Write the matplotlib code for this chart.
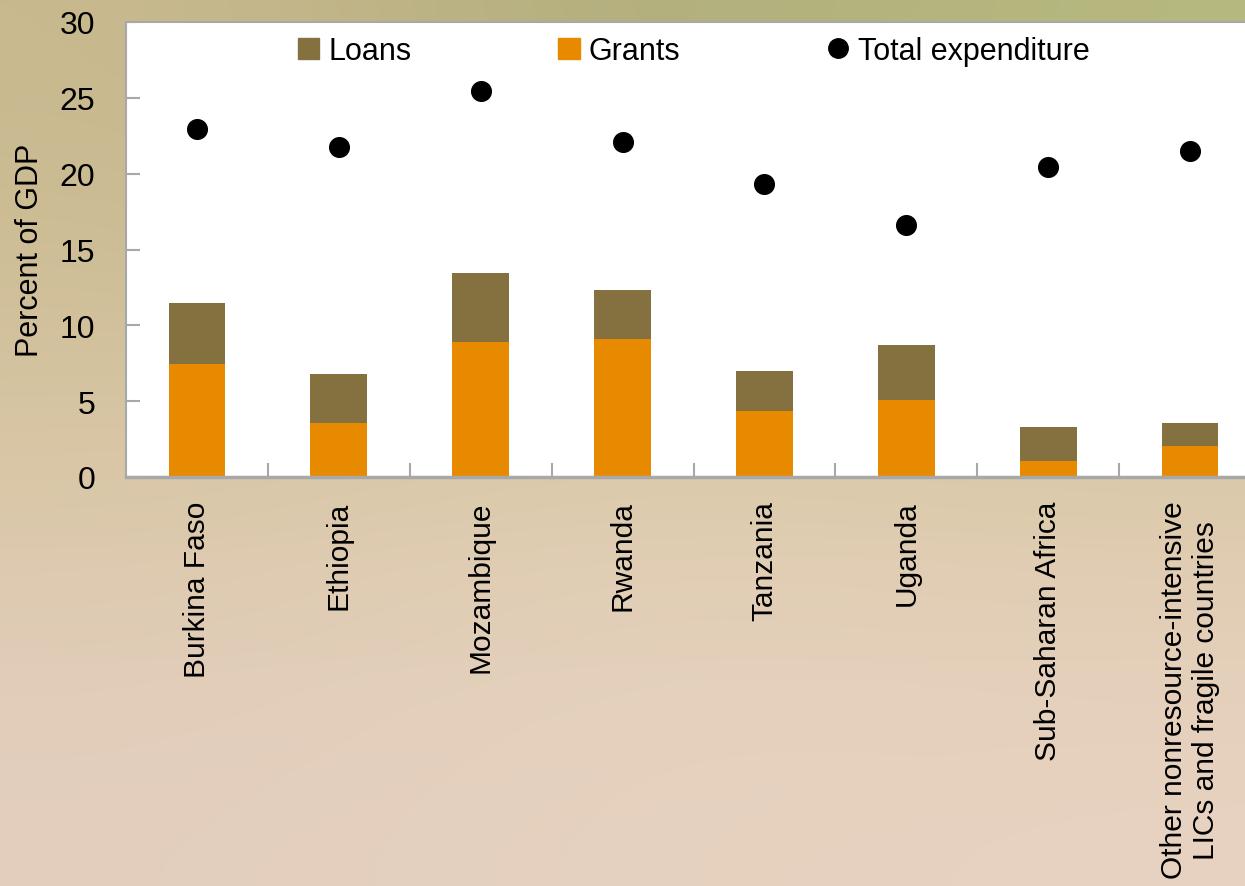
import numpy as np
import matplotlib.pyplot as plt
from matplotlib.colors import to_rgb
from matplotlib.lines import Line2D
from matplotlib.patches import Patch

# 国・地域別の援助（対GDP比）
countries = ['Burkina Faso', 'Ethiopia', 'Mozambique', 'Rwanda', 'Tanzania',
             'Uganda', 'Sub-Saharan Africa',
             'Other nonresource-intensive\nLICs and fragile countries']
grants = [7.45, 3.56, 8.9, 9.1, 4.35, 5.08, 1.05, 2.04]
loans = [4.02, 3.23, 4.55, 3.23, 2.64, 3.62, 2.25, 1.52]
total_exp = [22.94, 21.75, 25.45, 22.08, 19.31, 16.61, 20.43, 21.49]

c_grants = '#E88A00'
c_loans = '#857140'
c_axis = '#A8A8A8'

plt.rcParams['font.family'] = ['Liberation Sans', 'DejaVu Sans']

fig = plt.figure(figsize=(12.45, 8.87), dpi=100)

# 背景のグラデーション
bg = fig.add_axes([0, 0, 1, 1], zorder=-10)
corners = [['#c9b98f', '#aeab78', '#b4b87e'],
           ['#d8c6a3', '#e0ceb0', '#dcc9a8'],
           ['#e4cfc0', '#e6d2c0', '#e8d2c2']]
grid = np.array([[to_rgb(c) for c in row] for row in corners])
bg.imshow(grid, aspect='auto', interpolation='bicubic', extent=[0, 1, 0, 1])
bg.set_axis_off()

ax = fig.add_axes([126 / 1245, 1 - 478 / 887, 1135 / 1245, 455 / 887])
ax.set_facecolor('white')

x = np.arange(len(countries))
ax.bar(x, grants, 0.4, color=c_grants, zorder=2)
ax.bar(x, loans, 0.4, bottom=grants, color=c_loans, zorder=2)
ax.scatter(x, total_exp, s=200, color='black', zorder=3)

ax.set_xlim(-0.5, len(countries) - 0.5)
ax.set_ylim(0, 30)
ax.set_yticks(range(0, 31, 5))
ax.tick_params(axis='y', direction='in', length=10, color=c_axis, width=1.5,
               pad=22, labelsize=23)

ax.set_xticks(x)
ax.set_xticklabels(countries, rotation=90, fontsize=21.5, ha='center', va='top',
                   multialignment='center')
ax.tick_params(axis='x', which='major', length=0, pad=17)
ax.set_xticks(x[:-1] + 0.5, minor=True)
ax.tick_params(axis='x', which='minor', direction='in', length=10, color=c_axis, width=1.5)

for s in ['left', 'top', 'right']:
    ax.spines[s].set_color(c_axis)
    ax.spines[s].set_linewidth(1.5)
ax.spines['bottom'].set_color(c_axis)
ax.spines['bottom'].set_linewidth(2.5)

ax.set_ylabel('Percent of GDP', fontsize=22)
ax.yaxis.set_label_coords(-0.0714, 0.5)

handles = [Patch(color=c_loans), Patch(color=c_grants),
           Line2D([], [], marker='o', color='black', linestyle='none', markersize=14)]
ax.legend(handles, ['Loans', 'Grants', 'Total expenditure'], ncol=3, frameon=False,
          loc='center left', bbox_to_anchor=(0.1515, 0.936), fontsize=22,
          borderpad=0, borderaxespad=0,
          handlelength=0.7, handleheight=0.7, handletextpad=0.3, columnspacing=4.8)

fig.savefig('out.png', dpi=100)
